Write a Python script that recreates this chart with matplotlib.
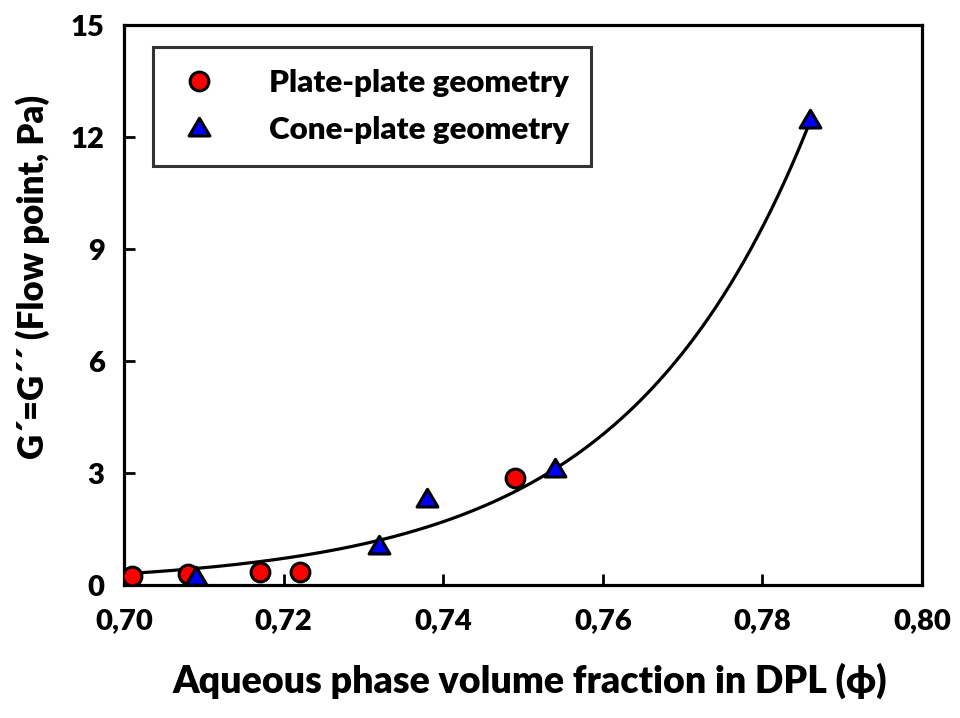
import numpy as np
import matplotlib
matplotlib.use("Agg")
import matplotlib.pyplot as plt
from matplotlib.path import Path
from matplotlib.ticker import FuncFormatter
from matplotlib import font_manager

plt.rcParams['font.family'] = ['Lato', 'DejaVu Sans']
plt.rcParams['font.weight'] = 'bold'

# Plate-plate geometry measurements
plate_phi = [0.701, 0.708, 0.717, 0.722, 0.749]
plate_g = [0.25, 0.29, 0.34, 0.36, 2.86]

# Cone-plate geometry measurements
cone_phi = [0.709, 0.732, 0.738, 0.754, 0.786]
cone_g = [0.22, 1.05, 2.30, 3.10, 12.45]

# Exponential trend line y = A * exp(B * (phi - 0.70))
fit_a = 0.30
fit_b = 43.3
fit_range = (0.700, 0.786)

x_ticks = [0.70, 0.72, 0.74, 0.76, 0.78, 0.80]
y_ticks = [0, 3, 6, 9, 12, 15]

WEIGHT = 'heavy'

fig = plt.figure(figsize=(9.6, 7.18), dpi=100)
ax = fig.add_axes([124 / 960, 1 - 585 / 718, (922 - 124) / 960, (585 - 25) / 718])

xs = np.linspace(fit_range[0], fit_range[1], 300)
ax.plot(xs, fit_a * np.exp(fit_b * (xs - 0.70)), color='black', lw=2.3, zorder=2)

tri = Path([(-1.0, -0.72), (1.0, -0.72), (0.0, 0.98), (-1.0, -0.72)],
           [Path.MOVETO, Path.LINETO, Path.LINETO, Path.CLOSEPOLY])

ax.plot(plate_phi, plate_g, linestyle='none', marker='o', ms=13.5,
        mfc='#ff0000', mec='black', mew=2.2, zorder=3,
        label='Plate-plate geometry')
ax.plot(cone_phi, cone_g, linestyle='none', marker=tri, ms=15,
        mfc='#0000ff', mec='black', mew=2.2, zorder=4,
        label='Cone-plate geometry')

ax.set_xlim(0.70, 0.80)
ax.set_ylim(0, 15)
ax.set_xticks(x_ticks)
ax.set_yticks(y_ticks)
ax.xaxis.set_major_formatter(FuncFormatter(lambda v, p: f"{v:.2f}".replace('.', ',')))
ax.yaxis.set_major_formatter(FuncFormatter(lambda v, p: f"{v:.0f}"))
ax.tick_params(direction='in', length=8, width=2, labelsize=21,
               top=False, right=False)
ax.tick_params(axis='x', pad=17)
ax.tick_params(axis='y', pad=14)
for lab in ax.get_xticklabels() + ax.get_yticklabels():
    lab.set_fontweight(WEIGHT)
for sp in ax.spines.values():
    sp.set_linewidth(2.3)

ax.set_xlabel('Aqueous phase volume fraction in DPL (\u03d5)', fontsize=27,
              fontweight=WEIGHT)
ax.set_ylabel('G\u00b4=G\u00b4\u00b4 (Flow point, Pa)', fontsize=25,
              fontweight=WEIGHT)
ax.xaxis.set_label_coords(0.508, -0.138)
ax.yaxis.set_label_coords(-0.093, 0.55)

leg = ax.legend(loc='upper left', bbox_to_anchor=((153 - 124) / 798, 1 - (47 - 25) / 560),
                frameon=True, fancybox=False, edgecolor='black',
                prop=font_manager.FontProperties(family=['Lato', 'DejaVu Sans'],
                                                 weight=WEIGHT, size=22.6),
                borderpad=0.7, labelspacing=0.62, handletextpad=1.5,
                handlelength=1.5, borderaxespad=0)
leg.get_frame().set_linewidth(2.2)

fig.savefig('out.png', dpi=100)
